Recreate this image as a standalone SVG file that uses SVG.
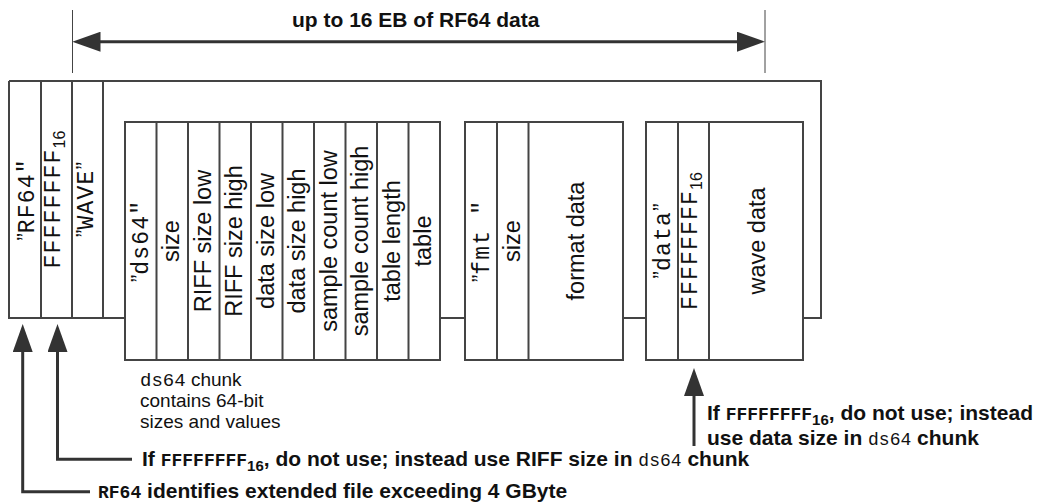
<svg xmlns="http://www.w3.org/2000/svg" width="1054" height="502" viewBox="0 0 1054 502">
  <defs>
    <marker id="head" viewBox="0 0 28 20" refX="1" refY="10" markerWidth="28" markerHeight="20" markerUnits="userSpaceOnUse" orient="auto-start-reverse">
      <path d="M0,0 L28,10 L0,20 Z" fill="#333"/>
    </marker>
    <style>
      .box{fill:#fff;stroke:#444;stroke-width:2}
      .ln{fill:none;stroke:#444;stroke-width:2}
      .dim{fill:none;stroke:#444;stroke-width:1}
      .arr{fill:none;stroke:#333;stroke-width:3}
      .lbl{font-family:"Liberation Sans",Arial,sans-serif;font-size:23.5px;fill:#111;text-anchor:middle}
      .q{font-family:"Liberation Sans",Arial,sans-serif;font-size:23px}
      .code{font-family:"Liberation Mono","Courier New",monospace;font-size:23px;letter-spacing:1.2px}
      .sub{font-family:"Liberation Sans",Arial,sans-serif;font-size:16px}
      .note{font-family:"Liberation Sans",Arial,sans-serif;font-size:21px;font-weight:bold;fill:#111}
      .nmono{font-family:"Liberation Mono","Courier New",monospace;font-size:18px}
      .nsub{font-size:15px}
      .plain{font-family:"Liberation Sans",Arial,sans-serif;font-size:19px;fill:#111}
      .pmono{font-family:"Liberation Mono","Courier New",monospace;font-size:19px}
    </style>
  </defs>

  <!-- span of the 64-bit data area -->
  <g id="span">
    <line class="dim" x1="72.5" y1="10" x2="72.5" y2="73"/>
    <line class="dim" x1="765" y1="10" x2="765" y2="73"/>
    <line class="arr" x1="99.5" y1="41.7" x2="738" y2="41.7" marker-start="url(#head)" marker-end="url(#head)"/>
    <text class="note" x="292" y="27">up to 16 EB of RF64 data</text>
  </g>

  <!-- RIFF container outline -->
  <g id="container">
    <path class="ln" d="M9,81 H821 V318 H803"/>
    <path class="ln" d="M9,81 V318 H125 M440,318 H465 M623,318 H646"/>
    <line class="ln" x1="41" y1="81" x2="41" y2="318"/>
    <line class="ln" x1="72" y1="81" x2="72" y2="318"/>
    <line class="ln" x1="103" y1="81" x2="103" y2="318"/>
    <text class="lbl" transform="translate(34,199.5) rotate(-90)"><tspan class="q">”</tspan><tspan class="code">RF64"</tspan></text>
    <text class="lbl" transform="translate(60,199.5) rotate(-90)"><tspan class="code">FFFFFFFF</tspan><tspan class="sub" dy="5">16</tspan></text>
    <text class="lbl" transform="translate(93,199.5) rotate(-90)"><tspan class="q">”</tspan><tspan class="code">WAVE</tspan><tspan class="q">”</tspan></text>
  </g>

  <!-- ds64 chunk -->
  <g id="ds64">
    <rect class="box" x="125" y="122" width="315" height="238"/>
    <path class="ln" d="M156.5,122 V360 M188,122 V360 M219.5,122 V360 M251,122 V360 M282.5,122 V360 M314,122 V360 M345.5,122 V360 M377,122 V360 M408.5,122 V360"/>
    <text class="lbl" transform="translate(148,241) rotate(-90)"><tspan class="q">”</tspan><tspan class="code">ds64"</tspan></text>
    <text class="lbl" transform="translate(179,241) rotate(-90)">size</text>
    <text class="lbl" transform="translate(211,241) rotate(-90)">RIFF size low</text>
    <text class="lbl" transform="translate(242,241) rotate(-90)">RIFF size high</text>
    <text class="lbl" transform="translate(274,241) rotate(-90)">data size low</text>
    <text class="lbl" transform="translate(305,241) rotate(-90)">data size high</text>
    <text class="lbl" transform="translate(337,241) rotate(-90)">sample count low</text>
    <text class="lbl" transform="translate(368,241) rotate(-90)">sample count high</text>
    <text class="lbl" transform="translate(400,241) rotate(-90)">table length</text>
    <text class="lbl" transform="translate(431,241) rotate(-90)">table</text>
    <text class="plain" x="140" y="386"><tspan class="pmono">ds64</tspan> chunk</text>
    <text class="plain" x="140" y="407">contains 64-bit</text>
    <text class="plain" x="140" y="428">sizes and values</text>
  </g>

  <!-- fmt chunk -->
  <g id="fmt">
    <rect class="box" x="465" y="122" width="158" height="238"/>
    <path class="ln" d="M497,122 V360 M528.5,122 V360"/>
    <text class="lbl" transform="translate(489,241) rotate(-90)"><tspan class="q">”</tspan><tspan class="code">fmt "</tspan></text>
    <text class="lbl" transform="translate(520,241) rotate(-90)">size</text>
    <text class="lbl" transform="translate(584,241) rotate(-90)">format data</text>
  </g>

  <!-- data chunk -->
  <g id="data">
    <rect class="box" x="646" y="122" width="157" height="238"/>
    <path class="ln" d="M678,122 V360 M709,122 V360"/>
    <text class="lbl" transform="translate(670,241) rotate(-90)"><tspan class="q">”</tspan><tspan class="code">data</tspan><tspan class="q">”</tspan></text>
    <text class="lbl" transform="translate(697,241) rotate(-90)"><tspan class="code">FFFFFFFF</tspan><tspan class="sub" dy="5">16</tspan></text>
    <text class="lbl" transform="translate(765,241) rotate(-90)">wave data</text>
  </g>

  <!-- callout arrows -->
  <g id="connectors">
    <path class="arr" d="M90,491.7 H22.7 V351" marker-end="url(#head)"/>
    <path class="arr" d="M132,459.3 H57.5 V351" marker-end="url(#head)"/>
    <path class="arr" d="M694,446 V395" marker-end="url(#head)"/>
  </g>

  <!-- callout notes -->
  <g id="notes">
    <text class="note" x="142" y="466">If <tspan class="nmono">FFFFFFFF</tspan><tspan class="nsub" dy="5">16</tspan><tspan dy="-5">, do not use; instead use RIFF size in </tspan><tspan class="nmono" font-weight="normal">ds64</tspan> chunk</text>
    <text class="note" x="98" y="498"><tspan class="nmono">RF64</tspan> identifies extended file exceeding 4 GByte</text>
    <text class="note" x="707" y="420">If <tspan class="nmono">FFFFFFFF</tspan><tspan class="nsub" dy="5">16</tspan><tspan dy="-5">, do not use; instead</tspan></text>
    <text class="note" x="707" y="445">use data size in <tspan class="nmono" font-weight="normal">ds64</tspan> chunk</text>
  </g>
</svg>
